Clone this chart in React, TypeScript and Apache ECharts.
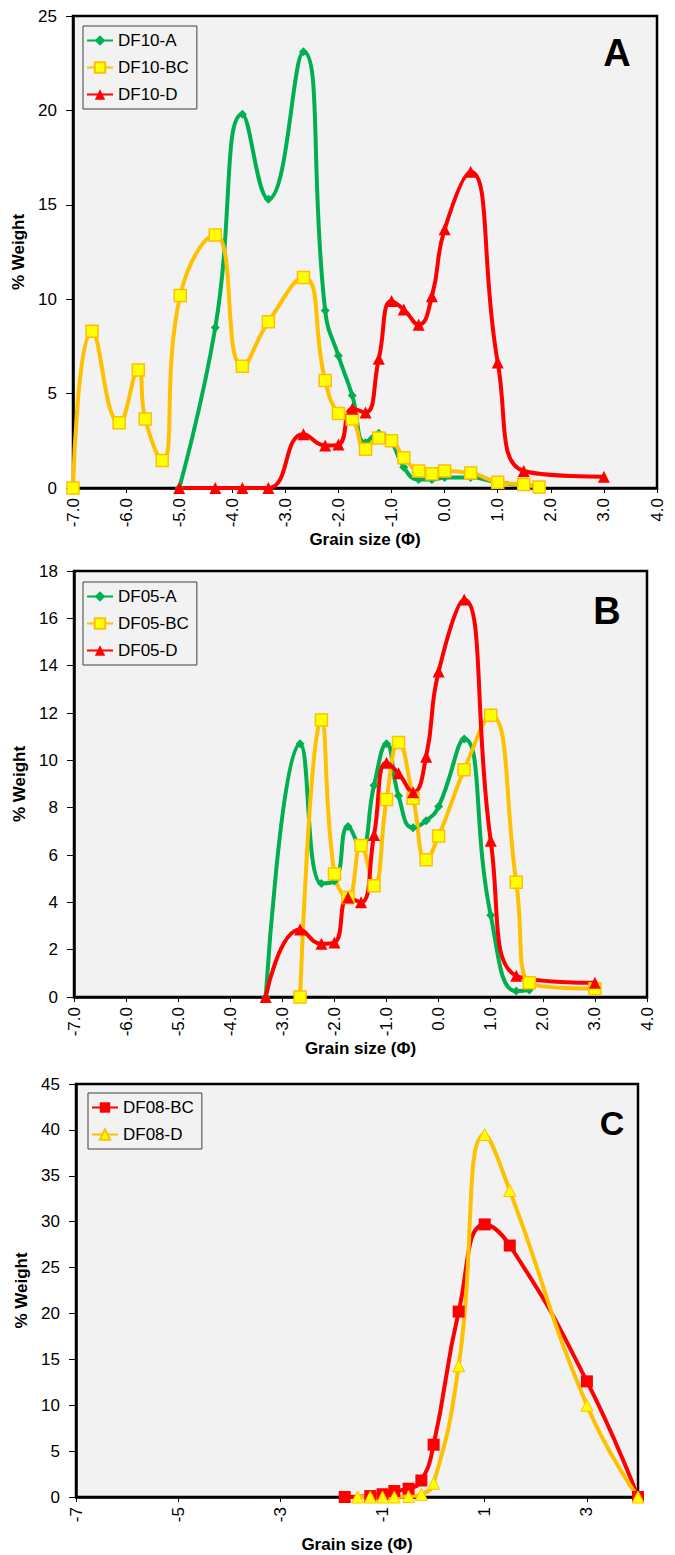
import React, { useEffect, useRef } from "react";
import * as echarts from "echarts";

const FONT = '"Liberation Sans", Arial, sans-serif';

// Panel A (DF10)
const A_A_x = [-5.0, -4.32, -3.81, -3.32, -2.66, -2.25, -2.0, -1.74, -1.49, -1.24, -1.0, -0.77, -0.49, -0.24, 0.0, 0.49, 1.0, 1.49, 1.74];
const A_A_y = [0, 8.5, 19.8, 15.3, 23.1, 9.4, 7.0, 4.9, 2.4, 2.9, 2.4, 1.1, 0.45, 0.45, 0.55, 0.55, 0.3, 0.15, 0.1];
const A_BC_x = [-7.0, -6.64, -6.13, -5.77, -5.64, -5.32, -4.98, -4.32, -3.81, -3.32, -2.66, -2.25, -2.0, -1.74, -1.49, -1.24, -1.0, -0.77, -0.49, -0.24, 0.0, 0.49, 1.0, 1.49, 1.78];
const A_BC_y = [0, 8.3, 3.45, 6.25, 3.65, 1.45, 10.2, 13.4, 6.45, 8.8, 11.15, 5.7, 3.95, 3.65, 2.05, 2.65, 2.5, 1.6, 0.9, 0.75, 0.9, 0.8, 0.3, 0.18, 0.05];
const A_D_x = [-5.0, -4.32, -3.81, -3.32, -2.66, -2.25, -2.0, -1.74, -1.49, -1.24, -1.0, -0.77, -0.49, -0.24, 0.0, 0.49, 1.0, 1.49, 3.0];
const A_D_y = [0, 0, 0, 0, 2.85, 2.25, 2.3, 4.2, 4.0, 6.85, 9.9, 9.45, 8.65, 10.15, 13.7, 16.75, 6.65, 0.9, 0.6];

// Panel B (DF05)
const B_A_x = [-3.32, -2.66, -2.25, -2.0, -1.74, -1.49, -1.24, -1.0, -0.77, -0.49, -0.24, 0.0, 0.49, 1.0, 1.49, 1.74];
const B_A_y = [0, 10.7, 4.8, 4.9, 7.2, 6.3, 8.95, 10.7, 8.5, 7.15, 7.45, 8.05, 10.9, 3.45, 0.25, 0.3];
const B_BC_x = [-2.66, -2.25, -2.0, -1.74, -1.49, -1.24, -1.0, -0.77, -0.49, -0.24, 0.0, 0.49, 1.0, 1.49, 1.74, 3.0];
const B_BC_y = [0, 11.7, 5.2, 4.2, 6.4, 4.7, 8.35, 10.75, 8.4, 5.8, 6.8, 9.6, 11.9, 4.85, 0.6, 0.35];
const B_D_x = [-3.32, -2.66, -2.25, -2.0, -1.74, -1.49, -1.24, -1.0, -0.77, -0.49, -0.24, 0.0, 0.49, 1.0, 1.49, 3.0];
const B_D_y = [0, 2.85, 2.25, 2.3, 4.2, 4.0, 6.85, 9.9, 9.45, 8.65, 10.15, 13.75, 16.8, 6.6, 0.9, 0.6];

// Panel C (DF08)
const C_BC_x = [-1.74, -1.24, -1.0, -0.77, -0.49, -0.24, 0.0, 0.49, 1.0, 1.49, 3.0, 4.0];
const C_BC_y = [0, 0.1, 0.3, 0.65, 0.9, 1.8, 5.7, 20.2, 29.7, 27.4, 12.6, 0];
const C_D_x = [-1.49, -1.24, -1.0, -0.77, -0.49, -0.24, 0.0, 0.49, 1.0, 1.49, 3.0, 4.0];
const C_D_y = [0, 0, 0, 0, 0.05, 0.3, 1.5, 14.3, 39.5, 33.4, 10.0, 0];

const NAMES_A = ["DF10-A", "DF10-BC", "DF10-D"];
const NAMES_B = ["DF05-A", "DF05-BC", "DF05-D"];
const NAMES_C = ["DF08-BC", "DF08-D"];
const PANEL_LABELS = ["A", "B", "C"];

const pairs = (xs: number[], ys: number[]) => xs.map((x, i) => [x, ys[i]]);

const GREEN = "#00B050";
const ORANGE = "#FFC000";
const YELLOW = "#FFFF00";
const RED = "#FF0000";

const grids = [
  { left: 73, top: 16, width: 584, height: 472 },
  { left: 74, top: 571, width: 573, height: 426 },
  { left: 76, top: 1084, width: 562, height: 413 },
];

function makeX(i: number, step: number, decimals: number) {
  return {
    type: "value",
    gridIndex: i,
    min: -7,
    max: 4,
    interval: step,
    name: "Grain size (Φ)",
    nameLocation: "middle",
    nameGap: 39,
    nameTextStyle: { fontFamily: FONT, fontSize: 17, fontWeight: "bold", color: "#000" },
    axisLine: { onZero: false, lineStyle: { color: "#000", width: 2.5 } },
    axisTick: { show: true, inside: false, length: 5, lineStyle: { color: "#000", width: 1 } },
    axisLabel: {
      rotate: 90,
      margin: 10,
      fontFamily: FONT,
      fontSize: 17,
      color: "#000",
      showMaxLabel: step === 1,
      formatter: (v: number) => v.toFixed(decimals),
    },
    splitLine: { show: false },
  };
}

function makeY(i: number, max: number, step: number) {
  return {
    type: "value",
    gridIndex: i,
    min: 0,
    max,
    interval: step,
    name: "% Weight",
    nameLocation: "middle",
    nameRotate: 90,
    nameGap: 43,
    nameTextStyle: { fontFamily: FONT, fontSize: 17, fontWeight: "bold", color: "#000" },
    axisLine: { onZero: false, lineStyle: { color: "#000", width: 2.5 } },
    axisTick: { show: true, inside: false, length: 7, lineStyle: { color: "#000", width: 1 } },
    axisLabel: { margin: 16, fontFamily: FONT, fontSize: 17, color: "#000" },
    splitLine: { show: false },
  };
}

const lineW = 4;
function greenSeries(name: string, i: number, data: number[][]) {
  return {
    type: "line", name, xAxisIndex: i, yAxisIndex: i, data, smooth: 0.5,
    symbol: "diamond", symbolSize: 9,
    lineStyle: { color: GREEN, width: lineW }, itemStyle: { color: GREEN },
  };
}
function yellowSquareSeries(name: string, i: number, data: number[][]) {
  return {
    type: "line", name, xAxisIndex: i, yAxisIndex: i, data, smooth: 0.5,
    symbol: "rect", symbolSize: 12,
    lineStyle: { color: ORANGE, width: lineW },
    itemStyle: { color: YELLOW, borderColor: ORANGE, borderWidth: 1.5 },
  };
}
function redTriSeries(name: string, i: number, data: number[][]) {
  return {
    type: "line", name, xAxisIndex: i, yAxisIndex: i, data, smooth: 0.5,
    symbol: "triangle", symbolSize: 12,
    lineStyle: { color: RED, width: lineW }, itemStyle: { color: RED },
  };
}
function redSquareSeries(name: string, i: number, data: number[][]) {
  return {
    type: "line", name, xAxisIndex: i, yAxisIndex: i, data, smooth: 0.5,
    symbol: "rect", symbolSize: 12,
    lineStyle: { color: RED, width: lineW }, itemStyle: { color: RED },
  };
}
function yellowTriSeries(name: string, i: number, data: number[][]) {
  return {
    type: "line", name, xAxisIndex: i, yAxisIndex: i, data, smooth: 0.5,
    symbol: "triangle", symbolSize: 12,
    lineStyle: { color: ORANGE, width: lineW },
    itemStyle: { color: YELLOW, borderColor: ORANGE, borderWidth: 1 },
  };
}

function makeLegend(names: string[], left: number, top: number) {
  return {
    data: names,
    orient: "vertical",
    left,
    top,
    backgroundColor: "#F2F2F2",
    borderColor: "#404040",
    borderWidth: 1,
    borderRadius: 0,
    padding: [5, 8, 5, 3],
    itemGap: 8,
    itemWidth: 26,
    itemHeight: 13,
    textStyle: { fontFamily: FONT, fontSize: 17, color: "#000", lineHeight: 19 },
  };
}

export default function App() {
  const ref = useRef<HTMLDivElement>(null);
  useEffect(() => {
    if (!ref.current) return;
    const chart = echarts.init(ref.current, undefined, { renderer: "svg" });
    const option: any = {
      animation: false,
      backgroundColor: "#FFFFFF",
      grid: grids.map((g) => ({
        ...g,
        show: true,
        backgroundColor: "#F2F2F2",
        borderColor: "#000",
        borderWidth: 2.5,
        containLabel: false,
      })),
      xAxis: [makeX(0, 1, 1), makeX(1, 1, 1), makeX(2, 2, 0)],
      yAxis: [makeY(0, 25, 5), makeY(1, 18, 2), makeY(2, 45, 5)],
      legend: [
        makeLegend(NAMES_A, 83, 26),
        makeLegend(NAMES_B, 83, 582),
        makeLegend(NAMES_C, 88, 1093),
      ],
      graphic: [
        { type: "text", x: 617, y: 53, style: { text: PANEL_LABELS[0], font: `bold 38px ${FONT}`, fill: "#000", align: "center", verticalAlign: "middle" } },
        { type: "text", x: 607, y: 611, style: { text: PANEL_LABELS[1], font: `bold 38px ${FONT}`, fill: "#000", align: "center", verticalAlign: "middle" } },
        { type: "text", x: 612, y: 1123, style: { text: PANEL_LABELS[2], font: `bold 34px ${FONT}`, fill: "#000", align: "center", verticalAlign: "middle" } },
      ],
      series: [
        greenSeries(NAMES_A[0], 0, pairs(A_A_x, A_A_y)),
        yellowSquareSeries(NAMES_A[1], 0, pairs(A_BC_x, A_BC_y)),
        redTriSeries(NAMES_A[2], 0, pairs(A_D_x, A_D_y)),
        greenSeries(NAMES_B[0], 1, pairs(B_A_x, B_A_y)),
        yellowSquareSeries(NAMES_B[1], 1, pairs(B_BC_x, B_BC_y)),
        redTriSeries(NAMES_B[2], 1, pairs(B_D_x, B_D_y)),
        redSquareSeries(NAMES_C[0], 2, pairs(C_BC_x, C_BC_y)),
        yellowTriSeries(NAMES_C[1], 2, pairs(C_D_x, C_D_y)),
      ],
    };
    chart.setOption(option);
    return () => chart.dispose();
  }, []);
  return (
    <div
      ref={ref}
      style={{ position: "absolute", left: 0, top: 0, width: 675, height: 1555, background: "#fff" }}
    />
  );
}
